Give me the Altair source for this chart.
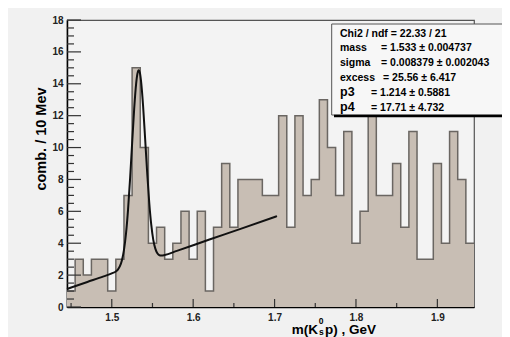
import altair as alt
import pandas as pd

# ---- data ----
bin_lo = 1.445
bin_w = 0.01
counts = [1, 3, 2, 3, 3, 1, 3, 7, 15, 10,
          4, 5, 3, 4, 6, 3, 6, 1, 5, 9,
          5, 8, 8, 8, 7, 7, 12, 5, 12, 7,
          8, 13, 10, 7, 11, 4, 6, 17, 7, 7,
          9, 5, 11, 3, 3, 9, 4, 11, 8, 4]

fit_x = [1.445, 1.47, 1.49, 1.50, 1.505, 1.5075, 1.51, 1.5125, 1.515, 1.5175,
         1.52, 1.5225, 1.525, 1.5275, 1.53, 1.5315, 1.533, 1.5345, 1.536, 1.5385,
         1.541, 1.5435, 1.546, 1.5485, 1.551, 1.5535, 1.556, 1.5585, 1.561, 1.565,
         1.58, 1.62, 1.66, 1.703]
fit_y = [1.13, 1.57, 1.92, 2.11, 2.23, 2.35, 2.56, 2.93, 3.58, 4.61,
         6.11, 8.05, 10.26, 12.40, 14.04, 14.63, 14.85, 14.69, 14.15, 12.59,
         10.54, 8.42, 6.57, 5.16, 4.21, 3.66, 3.37, 3.25, 3.23, 3.26,
         3.52, 4.23, 4.93, 5.70]

x_ticks = [1.5, 1.6, 1.7, 1.8, 1.9]
x_minor = [1.45, 1.55, 1.65, 1.75, 1.85]
y_ticks = [0, 2, 4, 6, 8, 10, 12, 14, 16, 18]
y_minor = [v / 2 for v in range(1, 36) if v % 4 != 0]

stat_labels = ["mass", "sigma", "excess", "p3", "p4"]
stat_values = ["= 1.533 \u00b1 0.004737", "= 0.008379 \u00b1 0.002043",
               "= 25.56 \u00b1 6.417", "= 1.214 \u00b1 0.5881", "= 17.71 \u00b1 4.732"]
chi2_text = "Chi2 / ndf = 22.33 / 21"

# ---- tables ----
edges = [round(bin_lo + bin_w * i, 3) for i in range(len(counts) + 1)]
hist = pd.DataFrame({"x": edges, "y": counts + [counts[-1]]})
fit = pd.DataFrame({"x": fit_x, "y": fit_y})

FONT = "Liberation Sans"
W, H = 407, 287

xscale = alt.Scale(domain=[1.445, 1.945], nice=False, zero=False)
yscale = alt.Scale(domain=[0, 18], nice=False)

xaxis = alt.Axis(values=x_ticks, format=".1f", title=None, tickSize=0, labelPadding=5,
                 labelFont=FONT, labelFontWeight="bold", labelFontSize=10, labelColor="#222",
                 domainColor="black", domainWidth=1.5, grid=False, labelFlush=False,
                 labelOverlap=False)
yaxis = alt.Axis(values=y_ticks, title=None, tickSize=0, labelPadding=4,
                 labelFont=FONT, labelFontWeight="bold", labelFontSize=10, labelColor="#222",
                 domainColor="black", domainWidth=1.5, grid=False, labelFlush=False,
                 labelOverlap=False)


def X(field):
    return alt.X(field, scale=xscale, axis=xaxis)


def Y(field):
    return alt.Y(field, scale=yscale, axis=yaxis)


area = alt.Chart(hist).mark_area(interpolate="step-after", color="#c8beb4").encode(
    x=X("x:Q"), y=Y("y:Q"))
outline = alt.Chart(hist).mark_line(interpolate="step-after", color="#6a6662",
                                    strokeWidth=1.5).encode(x=X("x:Q"), y=Y("y:Q"))
curve = alt.Chart(fit).mark_line(interpolate="monotone", color="#111",
                                 strokeWidth=2).encode(x=X("x:Q"), y=Y("y:Q"))

# inward ticks
ymaj = alt.Chart(pd.DataFrame({"v": y_ticks})).mark_rule(color="#333", strokeWidth=1.2).encode(
    y=Y("v:Q"), x=alt.value(0), x2=alt.value(14))
ymin = alt.Chart(pd.DataFrame({"v": y_minor})).mark_rule(color="#333", strokeWidth=1.2).encode(
    y=Y("v:Q"), x=alt.value(0), x2=alt.value(7))
xmaj = alt.Chart(pd.DataFrame({"v": x_ticks})).mark_rule(color="#333", strokeWidth=1.2).encode(
    x=X("v:Q"), y=alt.value(H), y2=alt.value(H - 8))
xmin = alt.Chart(pd.DataFrame({"v": x_minor})).mark_rule(color="#333", strokeWidth=1.2).encode(
    x=X("v:Q"), y=alt.value(H), y2=alt.value(H - 4))

one = pd.DataFrame({"a": [0]})

# stats box
box = alt.Chart(one).mark_rect(fill="#f7f7f7", stroke="#555", strokeWidth=1).encode(
    x=alt.value(264.7), x2=alt.value(452), y=alt.value(4), y2=alt.value(95))
shadow = alt.Chart(one).mark_rule(color="black", strokeWidth=2.5).encode(
    x=alt.value(267), x2=alt.value(452), y=alt.value(96))

texts = []
TS = 10.5
texts.append(alt.Chart(one).mark_text(text=chi2_text, font=FONT, fontWeight="bold", fontSize=TS,
                                      align="left", baseline="alphabetic", color="black").encode(
    x=alt.value(273), y=alt.value(16.5)))
eq_x = [314, 314, 316, 304, 304]
for i, (lab, val) in enumerate(zip(stat_labels, stat_values)):
    yy = 16.5 + 14.9 * (i + 1)
    lab_size = TS + 2 if lab.startswith("p") else TS
    texts.append(alt.Chart(one).mark_text(text=lab, font=FONT, fontWeight="bold", fontSize=lab_size,
                                          align="left", baseline="alphabetic", color="black").encode(
        x=alt.value(273), y=alt.value(yy)))
    texts.append(alt.Chart(one).mark_text(text=val, font=FONT, fontWeight="bold", fontSize=TS,
                                          align="left", baseline="alphabetic", color="black").encode(
        x=alt.value(eq_x[i]), y=alt.value(yy)))

# axis titles
ytitle = alt.Chart(one).mark_text(text="comb. / 10 Mev", font=FONT, fontWeight="bold", fontSize=14.5,
                                  angle=270, align="center", baseline="middle", color="black").encode(
    x=alt.value(-25), y=alt.value(119))
xt1 = alt.Chart(one).mark_text(text="m(K", font=FONT, fontWeight="bold", fontSize=13.5,
                               align="left", baseline="alphabetic", color="black").encode(
    x=alt.value(224.7), y=alt.value(314))
xt2 = alt.Chart(one).mark_text(text="0", font=FONT, fontWeight="bold", fontSize=8.5,
                               align="left", baseline="alphabetic", color="black").encode(
    x=alt.value(251.8), y=alt.value(304))
xt3 = alt.Chart(one).mark_text(text="s", font=FONT, fontWeight="bold", fontSize=8.5,
                               align="left", baseline="alphabetic", color="black").encode(
    x=alt.value(252.0), y=alt.value(315))
xt4 = alt.Chart(one).mark_text(text="p) , GeV", font=FONT, fontWeight="bold", fontSize=13.5,
                               align="left", baseline="alphabetic", color="black").encode(
    x=alt.value(258), y=alt.value(314))

chart = alt.layer(area, outline, curve, ymaj, ymin, xmaj, xmin, box, shadow, *texts,
                  ytitle, xt1, xt2, xt3, xt4).properties(
    width=W, height=H,
    autosize=alt.AutoSizeParams(type="none"),
    padding={"left": 59, "top": 12, "right": 28, "bottom": 30},
    background="#f1f1f1",
).configure_view(stroke="#555", strokeWidth=1.2, fill="#f3f3f3"
).configure_axis(labelOverlap=False)

chart.save("out.html", embed_options={"renderer": "svg", "actions": False})
